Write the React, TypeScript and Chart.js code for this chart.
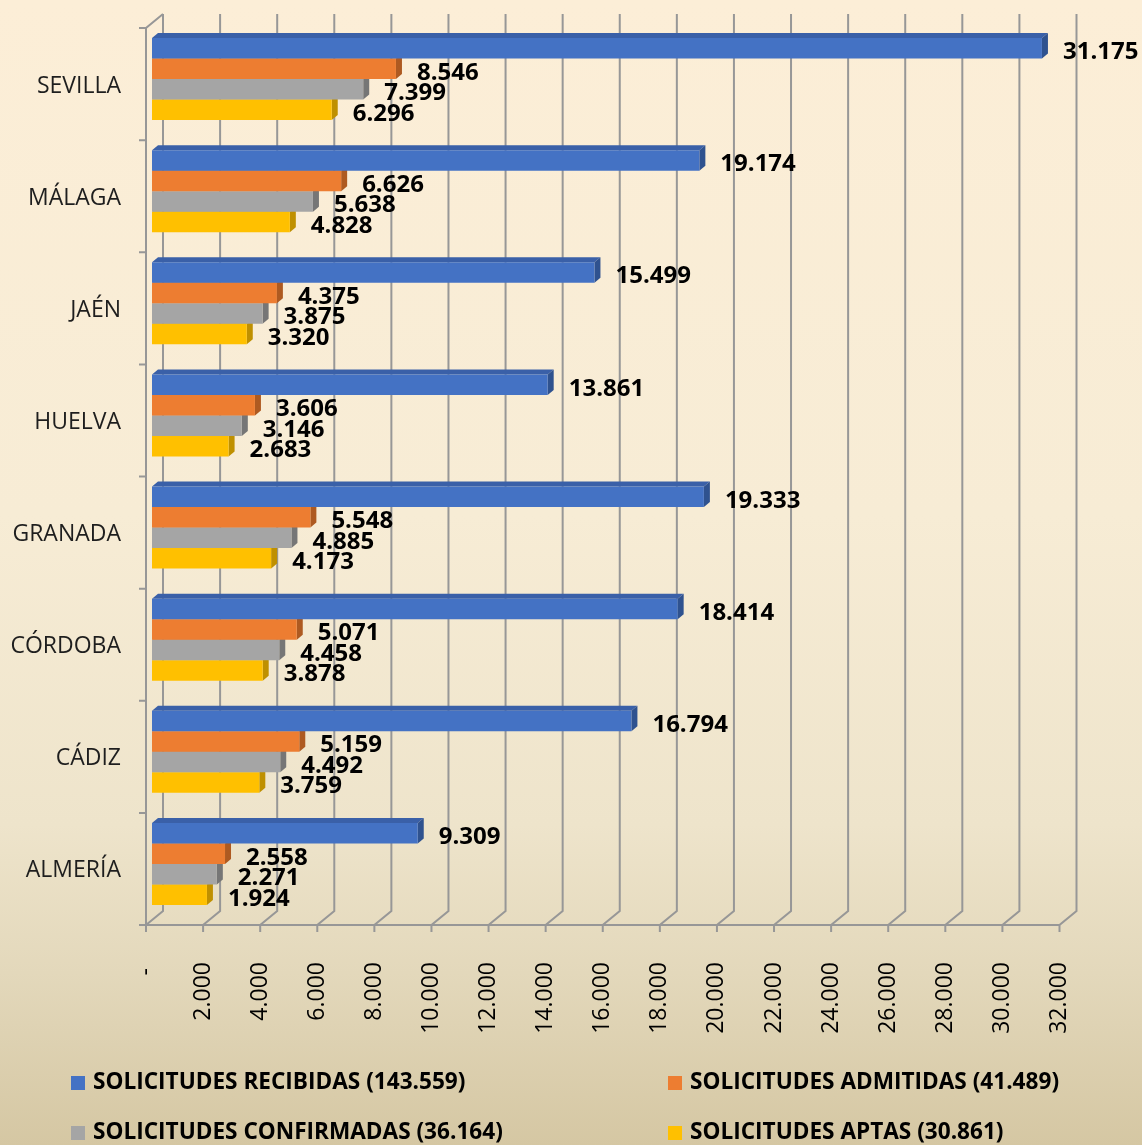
import React, { useEffect, useRef } from 'react';
import { Chart, registerables } from 'chart.js';

Chart.register(...registerables);

// ---- data ----
const categories = ['SEVILLA', 'MÁLAGA', 'JAÉN', 'HUELVA', 'GRANADA', 'CÓRDOBA', 'CÁDIZ', 'ALMERÍA'];
const recibidas = [31175, 19174, 15499, 13861, 19333, 18414, 16794, 9309];
const admitidas = [8546, 6626, 4375, 3606, 5548, 5071, 5159, 2558];
const confirmadas = [7399, 5638, 3875, 3146, 4885, 4458, 4492, 2271];
const aptas = [6296, 4828, 3320, 2683, 4173, 3878, 3759, 1924];
const seriesNames = ['SOLICITUDES RECIBIDAS', 'SOLICITUDES ADMITIDAS', 'SOLICITUDES CONFIRMADAS', 'SOLICITUDES APTAS'];
const xMin = 0;
const xMax = 32000;
const xStep = 2000;

// ---- styles ----
const frontColors = ['#4472C4', '#ED7D31', '#A5A5A5', '#FFC000'];
const topColors = ['#3A60A8', '#C9682A', '#8C8C8C', '#D9A300'];
const sideColors = ['#2F528F', '#AE5A21', '#767676', '#BF9000'];
const GRID = '#979797';
const FONT = '"Open Sans", "Noto Sans", sans-serif';
const BAR = { dx: 6, dy: -5 };
const WALL = { dx: 17, dy: -14 };

const fmt = (n: number) => Math.round(n).toString().replace(/\B(?=(\d{3})+(?!\d))/g, '.');
const sum = (a: number[]) => a.reduce((s, v) => s + v, 0);

const threeD = {
  id: 'threeD',
  beforeDatasetsDraw(chart: any) {
    const { ctx, chartArea: a } = chart;
    const xs = chart.scales.x;
    ctx.save();
    ctx.strokeStyle = GRID;
    ctx.lineWidth = 2;
    ctx.lineJoin = 'miter';
    for (let v = xMin; v <= xMax; v += xStep) {
      const px = xs.getPixelForValue(v);
      ctx.beginPath();
      ctx.moveTo(px + WALL.dx, a.top + WALL.dy);
      ctx.lineTo(px + WALL.dx, a.bottom + WALL.dy);
      ctx.lineTo(px, a.bottom);
      ctx.lineTo(px, a.bottom + 7);
      ctx.stroke();
    }
    // front floor edge
    ctx.beginPath();
    ctx.moveTo(xs.getPixelForValue(xMin), a.bottom);
    ctx.lineTo(xs.getPixelForValue(xMax), a.bottom);
    ctx.stroke();
    // left wall front edge
    ctx.beginPath();
    ctx.moveTo(a.left + WALL.dx, a.top + WALL.dy);
    ctx.lineTo(a.left, a.top);
    ctx.lineTo(a.left, a.bottom);
    ctx.stroke();
    // category ticks
    const n = categories.length;
    const band = (a.bottom - a.top) / n;
    ctx.beginPath();
    for (let i = 0; i <= n; i++) {
      const yy = a.top + i * band;
      ctx.moveTo(a.left - 7, yy);
      ctx.lineTo(a.left, yy);
    }
    ctx.stroke();
    ctx.restore();

    // bars plane (translated), 3D faces first
    ctx.save();
    ctx.translate(BAR.dx, BAR.dy);
    chart.data.datasets.forEach((_ds: any, di: number) => {
      const meta = chart.getDatasetMeta(di);
      meta.data.forEach((el: any) => {
        const p = el.getProps(['x', 'y', 'base', 'height'], true);
        const t = p.y - p.height / 2;
        const b = p.y + p.height / 2;
        ctx.fillStyle = topColors[di];
        ctx.beginPath();
        ctx.moveTo(p.base, t);
        ctx.lineTo(p.base + BAR.dx, t + BAR.dy);
        ctx.lineTo(p.x + BAR.dx, t + BAR.dy);
        ctx.lineTo(p.x, t);
        ctx.closePath();
        ctx.fill();
        ctx.fillStyle = sideColors[di];
        ctx.beginPath();
        ctx.moveTo(p.x, t);
        ctx.lineTo(p.x + BAR.dx, t + BAR.dy);
        ctx.lineTo(p.x + BAR.dx, b + BAR.dy);
        ctx.lineTo(p.x, b);
        ctx.closePath();
        ctx.fill();
      });
    });
  },
  afterDatasetsDraw(chart: any) {
    const { ctx } = chart;
    ctx.font = `bold 24px ${FONT}`;
    ctx.fillStyle = '#000';
    ctx.textAlign = 'left';
    ctx.textBaseline = 'middle';
    chart.data.datasets.forEach((ds: any, di: number) => {
      const meta = chart.getDatasetMeta(di);
      meta.data.forEach((el: any, i: number) => {
        const p = el.getProps(['x', 'y'], true);
        ctx.fillText(fmt(ds.data[i]), p.x + 21, p.y + 4);
      });
    });
    ctx.restore();
  },
};

const gridLegend = {
  id: 'gridLegend',
  afterDraw(chart: any) {
    const { ctx } = chart;
    const colX = [71, 668];
    const rowY = [1083, 1133];
    ctx.save();
    ctx.font = `bold 22.6px ${FONT}`;
    ctx.textAlign = 'left';
    ctx.textBaseline = 'middle';
    chart.data.datasets.forEach((ds: any, i: number) => {
      const x = colX[i % 2];
      const y = rowY[Math.floor(i / 2)];
      ctx.fillStyle = ds.backgroundColor;
      ctx.fillRect(x, y - 7, 14, 14);
      ctx.fillStyle = '#000';
      ctx.fillText(ds.label, x + 22, y);
    });
    ctx.restore();
  },
};

export default function App() {
  const ref = useRef<HTMLCanvasElement>(null);
  useEffect(() => {
    if (!ref.current) return;
    const series = [recibidas, admitidas, confirmadas, aptas];
    const chart = new Chart(ref.current, {
      type: 'bar',
      data: {
        labels: categories,
        datasets: series.map((d, i) => ({
          label: `${seriesNames[i]} (${fmt(sum(d))})`,
          data: d,
          backgroundColor: frontColors[i],
          borderWidth: 0,
          barPercentage: 1,
          categoryPercentage: 0.731,
        })),
      },
      options: {
        indexAxis: 'y',
        responsive: false,
        animation: false,
        devicePixelRatio: 1,
        layout: { padding: { top: 28, right: 82.5, bottom: 0, left: 0 } },
        plugins: { legend: { display: false }, tooltip: { enabled: false } },
        scales: {
          x: {
            min: xMin,
            max: xMax,
            grid: { display: false, drawTicks: false },
            border: { display: false },
            ticks: {
              stepSize: xStep,
              autoSkip: false,
              minRotation: 90,
              maxRotation: 90,
              padding: 37,
              color: '#000',
              font: { family: FONT, size: 23 },
              callback: (v: any) => (Number(v) === 0 ? '- ' : fmt(Number(v))),
            },
            afterFit: (s: any) => {
              s.height = 220;
              s.paddingLeft = 0;
              s.paddingRight = 0;
            },
          },
          y: {
            grid: { display: false, drawTicks: false },
            border: { display: false },
            ticks: { padding: 25, labelOffset: 2, color: '#1E1E1E', font: { family: FONT, size: 23 } },
            afterFit: (s: any) => {
              s.width = 146;
              s.paddingTop = 0;
              s.paddingBottom = 0;
            },
          },
        },
      },
      plugins: [threeD, gridLegend],
    } as any);
    return () => chart.destroy();
  }, []);

  return (
    <div
      style={{
        position: 'absolute',
        left: 0,
        top: 0,
        width: 1142,
        height: 1145,
        background: 'linear-gradient(to bottom, #FCEED7 0%, #F7ECD5 45%, #EEE4CB 72%, #E3D8BB 85%, #D5C7A3 100%)',
      }}
    >
      <canvas ref={ref} width={1142} height={1145} style={{ display: 'block' }} />
    </div>
  );
}
